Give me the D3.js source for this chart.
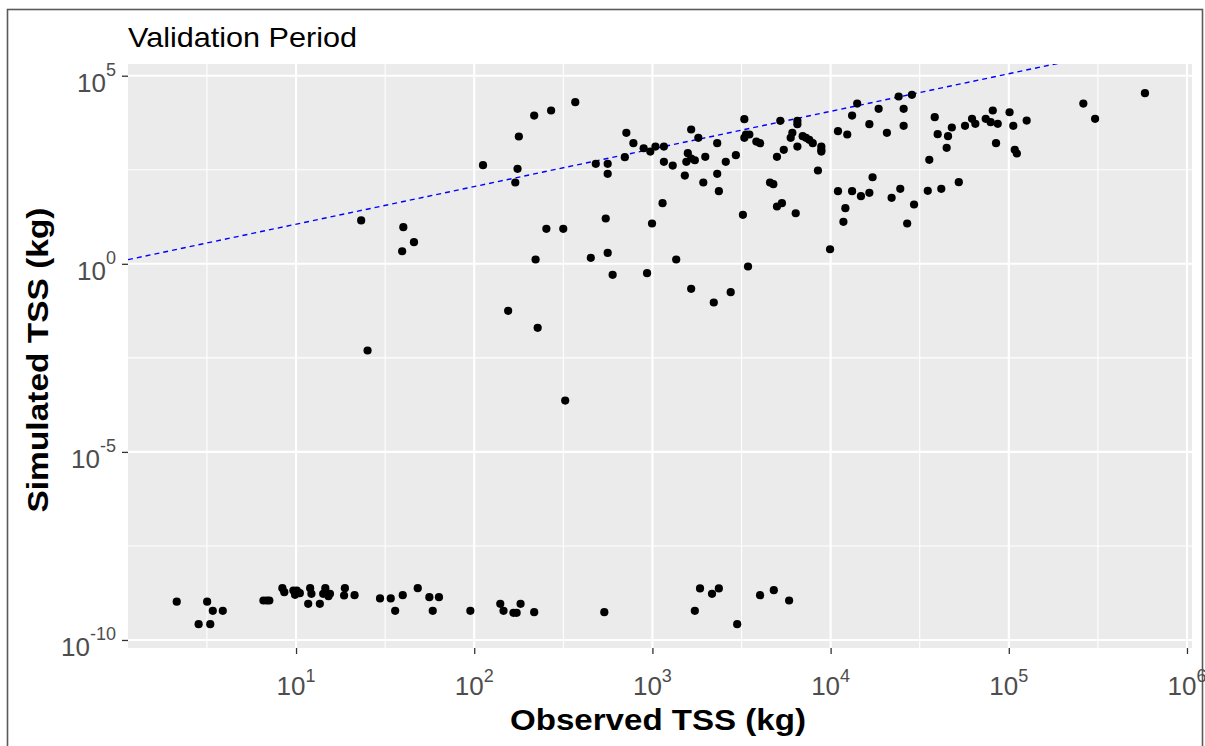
<!DOCTYPE html>
<html>
<head>
<meta charset="utf-8">
<script src="https://cdn.jsdelivr.net/npm/d3@7"></script>
<style>
  html, body { margin: 0; padding: 0; background: #ffffff; }
  #chart { width: 1205px; height: 746px; }
</style>
</head>
<body>
<div id="chart"></div>
<script>
// Observed vs simulated TSS scatter (log-log) for the validation period

// upper cloud + bottom row of near-zero simulated loads
const observed = [
  23.2, 40, 45.9, 39.4, 112, 25.2, 178, 217, 270, 369, 175, 170, 254, 316, 221, 155, 227, 324,
  481, 561, 561, 547, 561, 451, 598, 714, 782, 700, 893, 973, 1040, 1160, 1160, 1300, 1140, 995,
  933, 1360, 1650, 1810, 1580, 1550, 1650, 1730, 1980, 1520, 1930, 2310, 2310, 2360, 2580, 2940,
  1650, 2210, 2750, 3280, 3350, 3500, 3280, 3830, 4020, 3220, 3440, 5220, 5000, 5460, 4570, 4770,
  5000, 5330, 6370, 6510, 6510, 6100, 5970, 6510, 6970, 7270, 7590, 7940, 8870, 8870, 8870, 8490,
  9930, 11000, 12400, 13200, 14100, 16500, 18600, 17200, 11000, 13200, 14800, 16500, 12100, 11800,
  20700, 24100, 28600, 25700, 25700, 38400, 39900, 47900, 45600, 44800, 35800, 56800, 62200, 64900,
  74200, 81300, 79100, 86700, 84800, 101000, 106000, 108000, 111000, 126000, 262000, 305000, 581000,
  22000, 24600, 29400, 26900, 35100, 41800, 52400,
  2.14, 3.17, 3.41, 3.88, 2.84, 3.30, 6.56, 6.85, 7.08, 8.38, 8.59, 9.66, 10.1, 9.87, 10.5, 12.0,
  12.2, 11.7, 13.6, 14.6, 14.2, 15.2, 15.5, 18.8, 18.6, 21.3, 29.6, 34.0, 36.0, 39.7, 48.2, 56.0,
  63.4, 58.5, 95.1, 140, 146, 166, 173, 182, 217, 537, 1730, 1850, 2160, 2360, 2990, 4020, 4800, 5850
];
const simulated = [
  14.2, 9.4, 3.75, 2.16, 418, 4.96e-3, 2420, 8750, 11900, 19800, 335, 145, 8.5, 8.5, 1.3, 0.0563, 0.0199, 2.32e-4,
  455, 455, 247, 16.0, 1.96, 1.44, 0.51, 3030, 1610, 682, 1180, 966, 1310, 1310, 514, 410, 40.8, 11.8,
  0.562, 1.3, 3720, 2240, 871, 514, 630, 567, 699, 222, 145, 1610, 247, 85.1, 514, 771,
  0.216, 0.0936, 0.176, 6980, 2740, 2740, 2240, 1780, 1610, 20.1, 0.848, 6320, 699, 1070, 145, 131,
  33.4, 40.8, 22.1, 6320, 5140, 3030, 2240, 1310, 2470, 2240, 1980, 1610, 1310, 1070, 966, 302,
  2.44, 3350, 2740, 8750, 18200, 5140, 13200, 200, 85.1, 85.1, 62.7, 77.1, 30.1, 13.1,
  3030, 28000, 31000, 13200, 4660, 7890, 2790, 4200, 2470, 1210, 581, 4660, 7150, 5260,
  7150, 11900, 5810, 5260, 1610, 10700, 4660, 1070, 855, 6440, 18200, 7150, 34300,
  56.8, 98.6, 37.7, 11.8, 87.1, 98.6, 148,
  1.04e-9, 1.04e-9, 5.97e-10, 5.97e-10, 2.63e-10, 2.63e-10, 1.12e-9, 1.12e-9, 1.12e-9, 2.38e-9, 1.87e-9, 2.07e-9, 2.07e-9, 1.59e-9, 1.75e-9, 2.38e-9,
  1.69e-9, 9.16e-10, 9.16e-10, 2.38e-9, 1.69e-9, 1.46e-9, 1.69e-9, 2.38e-9, 1.52e-9, 1.55e-9, 1.27e-9, 1.27e-9, 5.97e-10, 1.55e-9, 2.38e-9, 1.37e-9,
  1.37e-9, 5.97e-10, 5.97e-10, 9.16e-10, 5.97e-10, 5.28e-10, 5.28e-10, 9.16e-10, 5.48e-10, 5.48e-10, 5.97e-10, 2.34e-9, 1.69e-9, 2.34e-9, 2.63e-10, 1.55e-9, 2.11e-9, 1.12e-9
];

// axis limits (ggplot expanded range) and breaks
const xLimits = [1.14, 1.067e6];
const yLimits = [6.12e-11, 2.05e5];
const xMajor = [1e1, 1e2, 1e3, 1e4, 1e5, 1e6];
const xMinor = [10 ** 0.5, 10 ** 1.5, 10 ** 2.5, 10 ** 3.5, 10 ** 4.5, 10 ** 5.5];
const yMajor = [1e-10, 1e-5, 1e0, 1e5];
const yMinor = [10 ** -7.5, 10 ** -2.5, 10 ** 2.5];
const xExp = ["1", "2", "3", "4", "5", "6"];
const yExp = ["-10", "-5", "0", "5"];

const data = observed.map((o, i) => ({obs: o, sim: simulated[i]}));

const W = 1205, H = 746;
const M = {t: 64, r: 13, b: 98, l: 128};
const FONT = "'Liberation Sans', Arial, sans-serif";

const svg = d3.select('#chart').append('svg').attr('width', W).attr('height', H);

// outer frame
svg.append('rect')
  .attr('x', 7.5).attr('y', 9.5)
  .attr('width', 1195).attr('height', 760)
  .attr('fill', 'none')
  .attr('stroke', '#5a5a5a')
  .attr('stroke-width', 1.6);

const x = d3.scaleLog().domain(xLimits).range([M.l, W - M.r]);
const y = d3.scaleLog().domain(yLimits).range([H - M.b, M.t]);

// panel
svg.append('rect')
  .attr('x', M.l).attr('y', M.t)
  .attr('width', W - M.r - M.l).attr('height', H - M.b - M.t)
  .attr('fill', '#EBEBEB');

svg.append('clipPath').attr('id', 'panel-clip')
  .append('rect')
  .attr('x', M.l).attr('y', M.t)
  .attr('width', W - M.r - M.l).attr('height', H - M.b - M.t);

const grid = svg.append('g').attr('clip-path', 'url(#panel-clip)');

// minor grid
grid.selectAll('.vminor').data(xMinor).enter().append('line')
  .attr('x1', d => x(d)).attr('x2', d => x(d))
  .attr('y1', M.t).attr('y2', H - M.b)
  .attr('stroke', '#fff').attr('stroke-width', 1.1);
grid.selectAll('.hminor').data(yMinor).enter().append('line')
  .attr('y1', d => y(d)).attr('y2', d => y(d))
  .attr('x1', M.l).attr('x2', W - M.r)
  .attr('stroke', '#fff').attr('stroke-width', 1.1);

// major grid
grid.selectAll('.vmajor').data(xMajor).enter().append('line')
  .attr('x1', d => x(d)).attr('x2', d => x(d))
  .attr('y1', M.t).attr('y2', H - M.b)
  .attr('stroke', '#fff').attr('stroke-width', 2.1);
grid.selectAll('.hmajor').data(yMajor).enter().append('line')
  .attr('y1', d => y(d)).attr('y2', d => y(d))
  .attr('x1', M.l).attr('x2', W - M.r)
  .attr('stroke', '#fff').attr('stroke-width', 2.1);

// 1:1 line
grid.append('line')
  .attr('x1', x(xLimits[0])).attr('y1', y(xLimits[0]) - 2)
  .attr('x2', x(xLimits[1])).attr('y2', y(xLimits[1]) - 2)
  .attr('stroke', '#0000FF')
  .attr('stroke-width', 1.4)
  .attr('stroke-dasharray', '5,4');

// points
grid.append('g')
  .selectAll('circle')
  .data(data)
  .enter()
  .append('circle')
  .attr('cx', d => x(d.obs))
  .attr('cy', d => y(d.sim))
  .attr('r', 4.1)
  .attr('fill', '#000');

// axes
const xAxis = svg.append('g')
  .attr('transform', `translate(0, ${H - M.b})`)
  .call(d3.axisBottom(x).tickValues(xMajor).tickSize(6).tickFormat(''));
xAxis.select('.domain').remove();
xAxis.selectAll('line').attr('stroke', '#333').attr('stroke-width', 1.3);

const yAxis = svg.append('g')
  .attr('transform', `translate(${M.l}, 0)`)
  .call(d3.axisLeft(y).tickValues(yMajor).tickSize(6).tickFormat(''));
yAxis.select('.domain').remove();
yAxis.selectAll('line').attr('stroke', '#333').attr('stroke-width', 1.3);

// tick labels 10^n
xMajor.forEach((v, i) => {
  const t = svg.append('text')
    .attr('x', x(v)).attr('y', H - M.b + 47)
    .attr('text-anchor', 'middle')
    .attr('font-family', FONT)
    .attr('fill', '#4D4D4D');
  t.append('tspan').attr('font-size', '26px').text('10');
  t.append('tspan').attr('font-size', '18px').attr('dy', -13).text(xExp[i]);
});

yMajor.forEach((v, i) => {
  const t = svg.append('text')
    .attr('x', M.l - 12).attr('y', y(v) + 16)
    .attr('text-anchor', 'end')
    .attr('font-family', FONT)
    .attr('fill', '#4D4D4D');
  t.append('tspan').attr('font-size', '26px').text('10');
  t.append('tspan').attr('font-size', '18px').attr('dy', -16).text(yExp[i]);
});

// titles
svg.append('text')
  .attr('x', M.l).attr('y', 47)
  .attr('font-family', FONT)
  .attr('font-size', '28px')
  .attr('textLength', 229)
  .attr('lengthAdjust', 'spacingAndGlyphs')
  .attr('fill', '#000')
  .text('Validation Period');

svg.append('text')
  .attr('x', (M.l + W - M.r) / 2 - 2).attr('y', 730)
  .attr('text-anchor', 'middle')
  .attr('font-family', FONT)
  .attr('font-size', '29px')
  .attr('font-weight', 700)
  .attr('textLength', 296)
  .attr('lengthAdjust', 'spacingAndGlyphs')
  .attr('fill', '#000')
  .text('Observed TSS (kg)');

svg.append('text')
  .attr('transform', `translate(48, ${(M.t + H - M.b) / 2 + 4}) rotate(-90)`)
  .attr('text-anchor', 'middle')
  .attr('font-family', FONT)
  .attr('font-size', '29px')
  .attr('font-weight', 700)
  .attr('textLength', 305)
  .attr('lengthAdjust', 'spacingAndGlyphs')
  .attr('fill', '#000')
  .text('Simulated TSS (kg)');
</script>
</body>
</html>
